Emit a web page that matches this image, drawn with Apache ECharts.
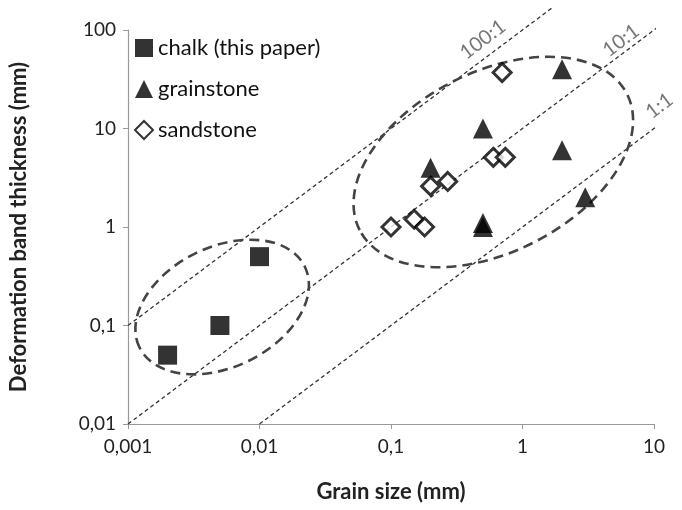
<!DOCTYPE html>
<html><head><meta charset="utf-8">
<script src="https://cdn.jsdelivr.net/npm/echarts@6/dist/echarts.min.js"></script>
<style>html,body{margin:0;padding:0;background:#fff}#c{width:682px;height:510px}</style>
</head><body><div id="c"></div>
<script>
// ---- data ----
const chalkX = [0.002, 0.005, 0.01];
const chalkY = [0.05, 0.1, 0.5];
const grainX = [0.2, 0.5, 0.5, 0.5, 2, 2, 3];
const grainY = [4, 10, 1.1, 1.0, 40, 6, 2];
const sandX = [0.1, 0.15, 0.18, 0.2, 0.27, 0.6, 0.74, 0.7];
const sandY = [1, 1.2, 1.0, 2.6, 2.9, 5.1, 5.1, 37];
const seriesNames = ['chalk (this paper)', 'grainstone', 'sandstone'];
const ratioNames = ['100:1', '10:1', '1:1'];
const ratioValues = [100, 10, 1];
const ratioStartX = [0.001, 0.001, 0.01];
const ratioEndX = [1.7, 11, 16];
const ratioLabelX = [0.5, 5.6, 11];
const ratioLabelY = [80, 78, 17];
const xTicks = ['0,001', '0,01', '0,1', '1', '10'];
const yTicks = ['0,01', '0,1', '1', '10', '100'];
// ellipse annotation centres (data coords)
const ellipseCX = [0.0052, 0.60];
const ellipseCY = [0.154, 4.57];

const zip = (a, b) => a.map((v, i) => [v, b[i]]);
const font = 'Lato, "Open Sans", sans-serif';

const chart = echarts.init(document.getElementById('c'), null, {renderer: 'canvas'});

const ratioSeries = ratioNames.map((n, i) => ({
  type: 'line', name: n, clip: false, silent: true, symbol: 'none', z: 1,
  data: [[ratioStartX[i], ratioStartX[i] * ratioValues[i]], [ratioEndX[i], ratioEndX[i] * ratioValues[i]]],
  lineStyle: {color: '#333', width: 1.3, type: [4, 3]}
}));

const option = {
  animation: false,
  backgroundColor: '#fff',
  grid: {left: 126, right: 28, top: 30, bottom: 86},
  legend: {
    orient: 'vertical', left: 129, top: 32, itemGap: 19, itemWidth: 18, itemHeight: 18,
    data: seriesNames,
    textStyle: {fontFamily: font, fontSize: 22, color: '#111'}
  },
  xAxis: {
    type: 'log', min: 0.001, max: 10, logBase: 10,
    name: 'Grain size (mm)', nameLocation: 'middle', nameGap: 57,
    nameTextStyle: {fontFamily: font, fontSize: 22, fontWeight: 'bold', color: '#222'},
    axisLine: {lineStyle: {color: '#999', width: 1.2}},
    axisTick: {show: true, length: 5, lineStyle: {color: '#999'}},
    minorTick: {show: false},
    splitLine: {show: false},
    axisLabel: {fontFamily: font, fontSize: 19, color: '#222', margin: 13,
      formatter: v => { const i = Math.round(Math.log10(v)) + 3; return xTicks[i] ?? ''; }}
  },
  yAxis: {
    type: 'log', min: 0.01, max: 100, logBase: 10,
    name: 'Deformation band thickness (mm)', nameLocation: 'middle', nameGap: 98, nameRotate: 90,
    nameTextStyle: {fontFamily: font, fontSize: 22, fontWeight: 'bold', color: '#222'},
    axisLine: {show: true, lineStyle: {color: '#999', width: 1.2}},
    axisTick: {show: true, length: 5, lineStyle: {color: '#999'}},
    splitLine: {show: false},
    axisLabel: {fontFamily: font, fontSize: 19, color: '#222', margin: 12,
      formatter: v => { const i = Math.round(Math.log10(v)) + 2; return yTicks[i] ?? ''; }}
  },
  series: [
    ...ratioSeries,
    {
      type: 'scatter', name: 'ratioLabels', clip: false, silent: true, symbolSize: 0, z: 2,
      data: ratioNames.map((n, i) => ({name: n, value: [ratioLabelX[i], ratioLabelY[i]]})),
      label: {show: true, position: 'inside', rotate: 37, formatter: p => p.name,
        fontFamily: font, fontSize: 20, color: '#555'}
    },
    {
      type: 'scatter', name: seriesNames[0], symbol: 'rect', symbolSize: 19, z: 5,
      data: zip(chalkX, chalkY), itemStyle: {color: '#000'}
    },
    {
      type: 'scatter', name: seriesNames[1], symbol: 'triangle', symbolSize: [20, 20], z: 5,
      data: zip(grainX, grainY), itemStyle: {color: '#000'}
    },
    {
      type: 'scatter', name: seriesNames[2], symbol: 'diamond', symbolSize: [18, 18], z: 6,
      data: zip(sandX, sandY), itemStyle: {color: '#fff', borderColor: '#000', borderWidth: 3}
    }
  ]
};
chart.setOption(option);

// ellipse annotations: centre from data coords; radii/angle are style
const ellipseStyle = [{rx: 92, ry: 60, rot: 26}, {rx: 150, ry: 90, rot: 27}];
const graphics = ellipseCX.map((cx, i) => {
  const p = chart.convertToPixel({xAxisIndex: 0, yAxisIndex: 0}, [cx, ellipseCY[i]]);
  const s = ellipseStyle[i];
  return {
    type: 'ellipse', x: p[0], y: p[1], rotation: s.rot * Math.PI / 180, z: 3, silent: true,
    shape: {cx: 0, cy: 0, rx: s.rx, ry: s.ry},
    style: {fill: 'transparent', stroke: '#444', lineWidth: 2.6, lineDash: [10, 6]}
  };
});
chart.setOption({graphic: graphics});
</script>
</body></html>
